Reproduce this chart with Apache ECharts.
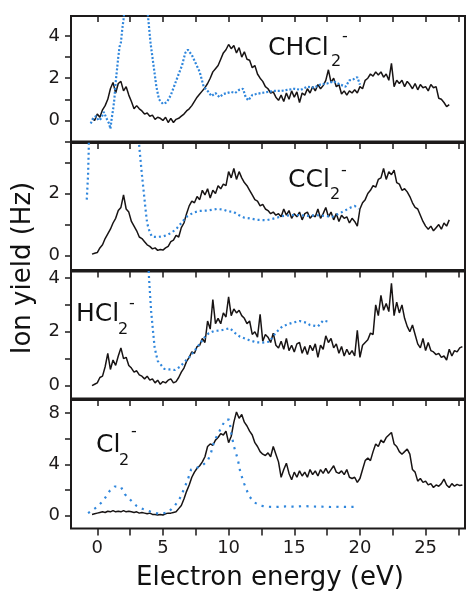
<!DOCTYPE html>
<html><head><meta charset="utf-8">
<script src="https://cdn.jsdelivr.net/npm/echarts@6/dist/echarts.min.js"></script>
<style>html,body{margin:0;padding:0;background:#fff}#c{width:466px;height:595px}</style>
</head><body><div id="c"></div>
<script>
// ---- data ----
const energy = [-0.4,-0.2,0,0.2,0.4,0.6,0.8,1,1.2,1.4, 1.6,1.8,2,2.2,2.4,2.6,2.8,3,3.2,3.4,
 3.6,3.8,4,4.2,4.4,4.6,4.8,5,5.2,5.4, 5.6,5.8,6,6.2,6.4,6.6,6.8,7,7.2,7.4,
 7.6,7.8,8,8.2,8.4,8.6,8.8,9,9.2,9.4, 9.6,9.8,10,10.2,10.4,10.6,10.8,11,11.2,11.4,
 11.6,11.8,12,12.2,12.4,12.6,12.8,13,13.2,13.4, 13.6,13.8,14,14.2,14.4,14.6,14.8,15,15.2,15.4,
 15.6,15.8,16,16.2,16.4,16.6,16.8,17,17.2,17.4, 17.6,17.8,18,18.2,18.4,18.6,18.8,19,19.2,19.4,
 19.6,19.8,20,20.2,20.4,20.6,20.8,21,21.2,21.4, 21.6,21.8,22,22.2,22.4,22.6,22.8,23,23.2,23.4,
 23.6,23.8,24,24.2,24.4,24.6,24.8,25,25.2,25.4, 25.6,25.8,26,26.2,26.4,26.6,26.8,27,27.2,27.4,
 27.6,27.8];

const chcl2Yield = [0.1,0.0,0.3,0.15,0.5,0.7,1.0,1.5,1.8,1.3,
 1.75,1.85,1.4,1.6,1.2,0.9,0.55,0.7,0.55,0.45,
 0.3,0.35,0.2,0.25,0.05,0.15,0.1,0.0,0.15,-0.1,
 0.1,-0.1,0.05,0.1,0.2,0.3,0.45,0.55,0.7,0.9,
 1.1,1.25,1.4,1.55,1.75,2.0,2.3,2.45,2.6,2.9,
 3.2,3.35,3.6,3.4,3.55,3.2,3.45,3.0,3.25,2.9,
 2.85,2.5,2.6,2.2,2.0,1.85,1.6,1.5,1.3,1.35,
 1.1,0.95,1.2,0.9,1.3,1.0,1.4,1.1,1.35,0.85,
 1.3,1.2,1.5,1.3,1.6,1.4,1.7,1.5,1.65,1.9,
 2.4,1.8,2.0,1.6,1.7,1.25,1.4,1.2,1.4,1.3,
 1.45,1.3,1.6,1.5,1.9,2.0,2.2,2.1,2.3,2.15,
 2.3,2.05,2.2,1.9,2.7,1.6,1.9,1.75,1.9,1.6,
 1.85,1.7,1.5,1.75,1.45,1.7,1.55,1.6,1.4,1.7,
 1.55,1.6,1.05,1.0,0.85,0.65,0.75];

const ccl2Yield = [0.05,0.08,0.1,0.25,0.35,0.55,0.7,0.85,1.05,1.2,
 1.45,1.55,1.95,1.5,1.4,1.1,0.95,0.8,0.6,0.55,
 0.45,0.35,0.3,0.22,0.25,0.17,0.2,0.18,0.25,0.3,
 0.45,0.5,0.65,0.6,0.9,1.05,1.35,1.6,1.75,1.7,
 1.9,1.8,2.1,1.95,2.15,1.85,2.1,2.0,2.25,2.15,
 2.3,2.25,2.7,2.5,2.8,2.45,2.7,2.5,2.35,2.25,
 2.1,1.95,1.8,1.75,1.6,1.65,1.5,1.45,1.35,1.4,
 1.3,1.35,1.25,1.5,1.3,1.45,1.2,1.35,1.25,1.4,
 1.15,1.35,1.4,1.2,1.3,1.25,1.5,1.2,1.35,1.55,
 1.25,1.4,1.15,1.35,1.1,1.3,1.2,1.25,1.05,1.2,
 1.1,0.95,1.5,1.7,1.8,2.0,2.1,2.25,2.2,2.45,
 2.5,2.8,2.45,2.7,2.6,2.75,2.35,2.3,2.1,2.15,
 2.05,1.9,1.7,1.55,1.5,1.3,1.1,0.95,0.85,0.95,
 0.8,0.9,1.0,0.85,1.05,0.95,1.15];

const hcl2Yield = [0.0,0.05,0.1,0.3,0.35,0.7,1.2,0.6,0.95,0.75,
 1.1,1.4,1.0,1.05,0.75,0.65,0.5,0.55,0.4,0.35,
 0.25,0.35,0.2,0.25,0.1,0.2,0.05,0.15,0.1,0.2,
 0.25,0.1,0.15,0.3,0.5,0.65,0.9,1.05,1.25,1.2,
 1.45,1.5,1.75,1.6,2.4,2.1,3.2,2.3,2.5,2.3,
 2.7,2.55,3.3,2.6,2.85,2.7,2.8,2.6,2.5,2.3,
 2.4,1.9,2.0,1.8,2.65,1.65,1.9,1.8,1.6,1.95,
 1.5,1.4,1.65,1.35,1.75,1.3,1.5,1.25,1.55,1.6,
 1.2,1.45,1.15,1.5,1.3,1.55,1.05,1.5,1.35,1.85,
 1.6,1.75,1.4,1.55,1.2,1.45,1.1,1.35,1.15,1.3,
 1.1,2.05,1.05,1.5,1.6,1.7,1.95,1.9,3.0,2.6,
 3.35,2.8,3.05,2.75,3.8,2.6,3.1,2.7,3.0,2.5,
 2.2,2.0,2.25,1.9,1.55,1.4,1.75,1.3,1.6,1.3,
 1.25,1.15,1.2,1.05,1.1,0.95,1.35,1.1,1.3,1.25,
 1.4,1.45];

const cl2Yield = [0.1,0.15,0.2,0.25,0.3,0.25,0.35,0.3,0.4,0.3,
 0.35,0.3,0.4,0.3,0.35,0.3,0.25,0.3,0.2,0.25,
 0.2,0.15,0.2,0.1,0.1,0.05,0.1,0.05,0.15,0.2,
 0.2,0.25,0.3,0.55,0.8,1.3,1.9,2.4,3.0,3.4,
 3.7,3.9,4.2,4.6,5.4,5.6,5.5,5.9,6.1,6.4,
 6.3,6.6,5.7,6.2,7.3,8.1,7.6,7.9,7.3,7.0,
 6.6,6.3,5.7,5.4,5.0,4.8,4.7,4.9,4.6,5.4,
 4.8,4.2,3.0,3.6,4.1,3.3,2.8,3.4,3.0,3.5,
 3.1,3.4,3.0,3.6,3.2,3.5,3.1,3.6,3.3,3.7,
 3.3,3.6,3.9,3.4,3.3,3.5,3.2,3.6,3.0,2.9,
 3.0,2.6,2.9,3.6,4.3,4.5,4.3,5.0,5.6,5.4,
 5.9,5.7,6.1,6.3,6.5,5.6,5.4,5.0,4.8,5.0,
 5.2,4.8,3.6,3.4,2.7,2.9,2.6,2.7,2.4,2.5,
 2.2,2.4,2.3,2.5,2.85,2.4,2.2,2.5,2.3,2.45,
 2.35,2.4];

// comparison (dotted) curves
const chcl2RefE = [-0.5,-0.3,-0.1,0.1,0.3,0.5,0.7,0.9,1.0,1.1,1.2,1.3,1.4,1.5,1.6,1.7,1.8,1.9,2.0,
 2.2,2.6,3.0,3.4,3.7,3.9,4.05,4.2,4.35,4.5,4.7,
 5.0,5.3,5.6,5.9,6.2,6.45,6.7,6.9,7.2,7.5,7.8,8.1,8.4,8.7,9.0,9.3,9.6,9.9,10.2,10.5,10.8,11.1,11.3,11.5,11.8,12.1,
 12.5,13.0,13.5,14.0,14.5,15.0,15.5,16.0,16.5,17.0,17.5,18.0,18.5,18.9,19.2,19.5,19.8,20.0];
const chcl2RefY = [-0.15,0.1,0.2,0.0,0.1,0.4,0.1,-0.15,-0.4,0.1,0.5,1.0,1.8,2.4,3.0,3.5,3.7,4.3,4.8,
 6,8,9,8,6,4.7,3.7,3.0,2.3,1.6,1.0,
 0.78,0.86,1.2,1.7,2.2,2.6,3.2,3.35,3.1,2.7,2.3,1.6,1.4,1.15,1.3,1.1,1.25,1.3,1.35,1.3,1.45,1.5,1.1,0.95,1.2,1.25,
 1.3,1.35,1.4,1.4,1.45,1.5,1.45,1.6,1.55,1.7,1.75,1.85,1.7,1.6,1.9,1.95,2.05,1.7];

const ccl2RefE = [-0.8,-0.7,-0.65,-0.55,0.5,2.0,3.0,3.2,3.4,3.55,3.7,3.8,4.0,4.17,4.5,5.0,5.3,5.7,6.06,6.4,6.8,7.3,7.8,8.4,9.1,9.6,10.0,10.35,10.8,11.2,11.6,12.2,12.9,13.5,14.1,14.7,15.4,16.0,16.7,17.3,17.9,18.4,18.9,19.3,19.6,19.9];
const ccl2RefY = [1.8,2.6,3.4,6,9,9,5,3.5,2.6,2.0,1.4,1.04,0.75,0.61,0.6,0.62,0.66,0.75,0.88,1.05,1.25,1.38,1.44,1.45,1.5,1.48,1.42,1.41,1.3,1.22,1.2,1.15,1.14,1.2,1.27,1.3,1.3,1.28,1.3,1.28,1.25,1.35,1.46,1.55,1.6,1.5];

const hcl2RefE = [3.85,3.94,4.1,4.25,4.37,4.6,5.1,5.5,5.9,6.3,6.6,7.0,7.4,7.8,8.15,8.5,8.9,9.4,9.8,10.1,10.5,10.86,11.5,12.1,12.6,13.1,13.6,14.1,14.5,14.9,15.4,15.9,16.2,16.8,17.2,17.6];
const hcl2RefY = [5,4.0,2.77,2.0,1.41,0.92,0.62,0.6,0.58,0.7,0.86,1.05,1.29,1.55,1.78,1.95,2.03,2.05,2.1,2.13,1.95,1.82,1.7,1.61,1.6,1.63,1.97,2.2,2.28,2.34,2.4,2.34,2.25,2.2,2.42,2.37];

const cl2RefE = [-0.7,-0.05,0.45,0.95,1.33,1.8,2.1,2.47,2.98,3.48,4.1,4.74,5.4,5.9,6.26,6.6,6.9,7.15,7.5,8.0,8.4,8.66,8.9,9.3,9.55,9.8,10.05,10.2,10.4,10.7,10.9,11.2,11.55,11.95,12.45,12.95,13.6,14.3,15.0,15.7,16.4,17.1,17.8,18.5,19.2,19.9];
const cl2RefY = [0.2,0.65,1.16,1.94,2.28,2.25,1.68,1.29,0.78,0.52,0.3,0.13,0.26,0.78,1.29,2.07,2.84,3.62,3.7,3.93,4.26,4.91,5.81,6.59,7.1,7.5,7.5,6.46,5.43,4.4,3.36,2.46,1.55,1.04,0.78,0.7,0.68,0.72,0.7,0.75,0.72,0.7,0.68,0.7,0.68,0.7];

const xTickValues = [0,2.5,5,7.5,10,12.5,15,17.5,20,22.5,25,27.5];
const xLabelValues = [0,5,10,15,20,25];
const panelNames = [['CHCl','2','-'],['CCl','2','-'],['HCl','2','-'],['Cl','2','-']];
const yRanges = [[-1,4.95],[-0.46,3.62],[-0.48,4.24],[-1,9.03]];
const yTickValues = [[-1,0,1,2,3,4],[0,1,2,3],[0,1,2,3,4],[0,2,4,6,8]];
const yLabelValues = [[0,2,4],[0,2],[0,2,4],[0,4,8]];
const xAxisTitle = 'Electron energy (eV)';
const yAxisTitle = 'Ion yield (Hz)';

// ---- chart ----
const FONT = 'DejaVu Sans';
const INK = '#1d1a1a';
const BLUE = '#2f86dc';
const gridBoxes = [
  {top:16, height:125.5},
  {top:143, height:127},
  {top:271.5, height:127},
  {top:400, height:128.5}
];
const blacks = [chcl2Yield, ccl2Yield, hcl2Yield, cl2Yield];
const refsE = [chcl2RefE, ccl2RefE, hcl2RefE, cl2RefE];
const refsY = [chcl2RefY, ccl2RefY, hcl2RefY, cl2RefY];
const dashes = [[2,1.9],[2,3],[2,3],[2.2,5.3]];

const grid = gridBoxes.map(b => ({left:71, right:1, top:b.top, height:b.height,
  show:true, borderColor:INK, borderWidth:2, backgroundColor:'transparent'}));

const xAxis = [];
gridBoxes.forEach((b,i) => {
  xAxis.push({type:'value', gridIndex:i, position:'top', min:-2, max:28,
    axisLine:{show:false, onZero:false}, splitLine:{show:false},
    axisTick:{show:true, inside:true, length:6, customValues:xTickValues, lineStyle:{color:INK, width:1.5}},
    axisLabel:{show:false}});
});
xAxis.push({type:'value', gridIndex:3, position:'bottom', min:-2, max:28,
  axisLine:{show:false, onZero:false}, splitLine:{show:false},
  axisTick:{show:true, inside:false, length:7, customValues:xTickValues, lineStyle:{color:INK, width:1.5}},
  axisLabel:{show:true, customValues:xLabelValues, margin:11, fontFamily:FONT, fontSize:18, color:INK}});

const yAxis = gridBoxes.map((b,i) => ({type:'value', gridIndex:i, min:yRanges[i][0], max:yRanges[i][1],
  axisLine:{show:false, onZero:false}, splitLine:{show:false},
  axisTick:{show:true, inside:false, length:6, customValues:yTickValues[i], lineStyle:{color:INK, width:1.5}},
  axisLabel:{show:true, customValues:yLabelValues[i], margin:11, fontFamily:FONT, fontSize:18, color:INK}}));

const series = [];
blacks.forEach((vals,i) => {
  series.push({type:'line', xAxisIndex:i, yAxisIndex:i, showSymbol:false, clip:true, z:2,
    data: vals.map((v,k) => [energy[k], v]),
    lineStyle:{color:'#181414', width:1.5}});
  series.push({type:'line', xAxisIndex:i, yAxisIndex:i, showSymbol:false, clip:true, z:3,
    data: refsE[i].map((e,k) => [e, refsY[i][k]]),
    lineStyle:{color:BLUE, width:2.2, type:dashes[i], cap:'butt'}});
});

const labelPos = [
  {x:268, y:48, sx:331, sy:62, px:342, py:37},
  {x:288, y:180, sx:330, sy:195, px:341, py:171},
  {x:76, y:314, sx:118, sy:330, px:129, py:304},
  {x:96, y:445.5, sx:119, sy:461, px:131, py:432}
];
const graphic = [];
labelPos.forEach((p,i) => {
  graphic.push({type:'text', x:p.x, y:p.y, style:{text:panelNames[i][0], font:'25px "DejaVu Sans"', fill:'#111', textAlign:'left', textVerticalAlign:'middle'}});
  graphic.push({type:'text', x:p.sx, y:p.sy, style:{text:panelNames[i][1], font:'16px "DejaVu Sans"', fill:'#111', textAlign:'left', textVerticalAlign:'middle'}});
  graphic.push({type:'text', x:p.px, y:p.py, style:{text:panelNames[i][2], font:'16px "DejaVu Sans"', fill:'#111', textAlign:'left', textVerticalAlign:'middle'}});
});
graphic.push({type:'text', x:270, y:578.5, style:{text:xAxisTitle, font:'26px "DejaVu Sans"', fill:'#111', textAlign:'center', textVerticalAlign:'middle'}});
graphic.push({type:'text', x:23.5, y:268, rotation:Math.PI/2, style:{text:yAxisTitle, font:'26px "DejaVu Sans"', fill:'#111', textAlign:'center', textVerticalAlign:'middle'}});

const chart = echarts.init(document.getElementById('c'), null, {renderer:'canvas'});
chart.setOption({animation:false, backgroundColor:'#fff', grid, xAxis, yAxis, series, graphic});
</script></body></html>
